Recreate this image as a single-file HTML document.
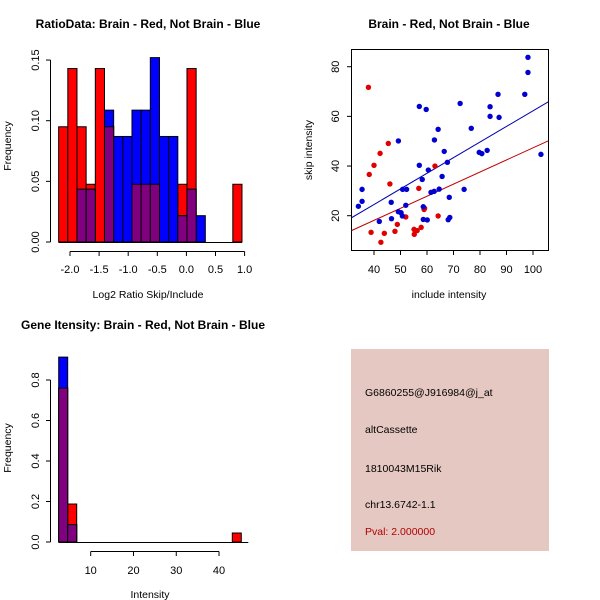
<!DOCTYPE html>
<html><head><meta charset="utf-8"><style>
html,body{margin:0;padding:0;background:#fff;}
svg{display:block;font-family:"Liberation Sans",sans-serif;}
</style></head><body>
<svg id="c" width="600" height="600" viewBox="0 0 600 600">
<rect width="600" height="600" fill="#fff"/>
<g id="p1"></g>
<g id="p2"></g>
<g id="p3"></g>
<g id="p4">
<rect x="351" y="349" width="198" height="202" fill="#E6C8C2"/>
<text x="365" y="396" font-size="10.5" fill="#000">G6860255@J916984@j_at</text>
<text x="365" y="433" font-size="10.5" fill="#000">altCassette</text>
<text x="365" y="472" font-size="10.5" fill="#000">1810043M15Rik</text>
<text x="365" y="508" font-size="10.5" fill="#000">chr13.6742-1.1</text>
<text x="365" y="535" font-size="10.5" fill="#B00000">Pval: 2.000000</text>
</g>
</svg>
<script>
// Panel 1 data
const ratioBinStart = -2.195;
const ratioBinWidth = 0.1575;
const ratioRed  = [0.095,0.143,0.095,0.0476,0.143,0.095,0,0,0.0476,0.0476,0.0476,0,0,0.0476,0.143,0,0,0,0,0.0476];
const ratioBlue = [0,0,0.0435,0.0435,0,0.1087,0.087,0.087,0.1087,0.1087,0.152,0.087,0.087,0.0217,0.0435,0.0217,0,0,0,0];
const ratioXTicks = [-2.0,-1.5,-1.0,-0.5,0.0,0.5,1.0];
const ratioXTickLabels = ["-2.0","-1.5","-1.0","-0.5","0.0","0.5","1.0"];
const ratioYTicks = [0,0.05,0.10,0.15];
const ratioYTickLabels = ["0.00","0.05","0.10","0.15"];
// Panel 2 data
const redX = [37.9,38.2,40,42.3,45.4,46,38.9,42.6,43.9,47.9,48.8,52,55.1,55.2,56.3,57.8,56.9,59.1,58.9,63,64.2];
const redY = [71.7,36.6,40.3,45.1,49.1,32.8,13.3,9.3,12.9,13.7,16.5,19.5,14.5,12.5,14,15.3,31,23,22.5,40,19.9];
const blueX = [34.1,35.5,35.5,42,46.5,46.6,49.2,49.2,50.2,50.7,50.8,52,52.3,57.1,57.1,58.2,58.6,58.6,59.7,60.1,60.5,61.5,62.7,62.8,64.2,64.6,65.7,66.5,67.7,68,68.4,68.6,72.5,74,76.7,79.7,80.7,82.7,83.8,83.8,86.8,87.2,96.9,98.1,98.1,103];
const blueY = [23.8,30.6,25.8,17.7,25.4,18.8,50.1,21.6,21.2,19.9,30.6,24.2,30.6,64,40.3,34.6,23.6,18.5,62.8,18.3,38.4,29.4,29.8,50.5,54.8,30.7,35.8,45.9,41.5,18.4,27.4,19.3,65.2,30.6,55.2,45.5,45,46.3,63.9,60,68.9,59.6,68.9,83.8,77.7,44.7];
const blueFit = [-0.65,0.629];
const redFit = [-1.33,0.4865];
const scatXTicks = [40,50,60,70,80,90,100];
const scatYTicks = [20,40,60,80];
// Panel 3 data
const intBinStarts = [2.52,4.63,43.1];
const intBinWidth = 2.1;
const intRed = [0.76,0.1875,0.0444];
const intBlue = [0.913,0.0856,0];
const intXTicks = [10,20,30,40];
const intYTicks = [0,0.2,0.4,0.6,0.8];
const intYTickLabels = ["0.0","0.2","0.4","0.6","0.8"];

const NS="http://www.w3.org/2000/svg";
function mk(parent,tag,attrs){const e=document.createElementNS(NS,tag);for(const k in attrs)e.setAttribute(k,attrs[k]);parent.appendChild(e);return e;}
function txt(parent,x,y,s,size,extra){const t=mk(parent,'text',Object.assign({x:x,y:y,'font-size':size,'text-anchor':'middle'},extra||{}));t.textContent=s;return t;}

// ---------- Panel 1 ----------
(function(){
const g=document.getElementById('p1');
const sx=v=>70+(v+2)*58.2, sy=v=>242-v*1213;
function bars(vals,color,name){vals.forEach((v,i)=>{if(v<=0)return;const x0=sx(ratioBinStart+i*ratioBinWidth),x1=sx(ratioBinStart+(i+1)*ratioBinWidth);
const r=mk(g,'rect',{x:x0,y:sy(v),width:x1-x0,height:sy(0)-sy(v),fill:color,stroke:'#000','stroke-width':1});

});}
bars(ratioRed,'#FF0000','red-bar');
bars(ratioBlue,'#0000FF','blue-bar');
bars(ratioRed.map((v,i)=>Math.min(v,ratioBlue[i])),'#800080','overlap-bar');
mk(g,'line',{x1:sx(ratioBinStart),x2:sx(ratioBinStart+ratioRed.length*ratioBinWidth),y1:sy(0)+0.5,y2:sy(0)+0.5,stroke:'#000'});
const ax=mk(g,'g',{});
mk(ax,'line',{x1:sx(ratioXTicks[0]),x2:sx(ratioXTicks[ratioXTicks.length-1]),y1:251.5,y2:251.5,stroke:'#000'});
ratioXTicks.forEach((v,i)=>{mk(ax,'line',{x1:sx(v),x2:sx(v),y1:251.5,y2:256,stroke:'#000'});txt(ax,sx(v),273,ratioXTickLabels[i],11);});
const ay=mk(g,'g',{});
mk(ay,'line',{x1:50.5,x2:50.5,y1:sy(0.15),y2:sy(0),stroke:'#000'});
ratioYTicks.forEach((v,i)=>{mk(ay,'line',{x1:46,x2:50.5,y1:sy(v),y2:sy(v),stroke:'#000'});txt(ay,39,sy(v),ratioYTickLabels[i],11,{transform:`rotate(-90 39 ${sy(v)})`});});
let t=txt(g,148,28,'RatioData: Brain - Red, Not Brain - Blue',12,{'font-weight':'bold'});
t=txt(g,148,298,'Log2 Ratio Skip/Include',10.5);
t=txt(g,11,146,'Frequency',10.5,{transform:'rotate(-90 11 146)'});
})();

// ---------- Panel 2 ----------
(function(){
const g=document.getElementById('p2');
const sx=v=>374+(v-40)*2.65, sy=v=>215.7-(v-20)*2.483;
mk(g,'rect',{x:351.5,y:49.5,width:197,height:201,fill:'none',stroke:'#000'});
const cp=mk(g,'clipPath',{id:'clip2'});mk(cp,'rect',{x:351.5,y:49.5,width:197,height:201});
function fitLine(fit,color,name){const xa=31.5,xb=105.7;const l=mk(g,'line',{x1:sx(xa),y1:sy(fit[0]+fit[1]*xa),x2:sx(xb),y2:sy(fit[0]+fit[1]*xb),stroke:color,'stroke-width':1,'clip-path':'url(#clip2)'});

}
fitLine(blueFit,'#0000B0','blue-regression-line');
fitLine(redFit,'#C00000','red-regression-line');
redX.forEach((x,i)=>{const c=mk(g,'circle',{cx:sx(x),cy:sy(redY[i]),r:2.7,fill:'#E00000'});

});
blueX.forEach((x,i)=>{const c=mk(g,'circle',{cx:sx(x),cy:sy(blueY[i]),r:2.7,fill:'#0000D0'});

});
const ax=mk(g,'g',{});
scatXTicks.forEach(v=>{mk(ax,'line',{x1:sx(v),x2:sx(v),y1:250.5,y2:255,stroke:'#000'});txt(ax,sx(v),273,String(v),11);});
const ay=mk(g,'g',{});
scatYTicks.forEach(v=>{mk(ay,'line',{x1:347,x2:351.5,y1:sy(v),y2:sy(v),stroke:'#000'});txt(ay,339,sy(v),String(v),11,{transform:`rotate(-90 339 ${sy(v)})`});});
let t=txt(g,449,28,'Brain - Red, Not Brain - Blue',12,{'font-weight':'bold'});
t=txt(g,449,298,'include intensity',10.5);
t=txt(g,312,150,'skip intensity',10.5,{transform:'rotate(-90 312 150)'});
})();

// ---------- Panel 3 ----------
(function(){
const g=document.getElementById('p3');
const sx=v=>90.7+(v-10)*4.278, sy=v=>542-v*202.5;
function bars(vals,color,name){vals.forEach((v,i)=>{if(v<=0)return;const x0=sx(intBinStarts[i]),x1=sx(intBinStarts[i]+intBinWidth);
const r=mk(g,'rect',{x:x0,y:sy(v),width:x1-x0,height:sy(0)-sy(v),fill:color,stroke:'#000','stroke-width':1});

});}
bars(intRed,'#FF0000','red-bar');
bars(intBlue,'#0000FF','blue-bar');
bars(intRed.map((v,i)=>Math.min(v,intBlue[i])),'#800080','overlap-bar');
mk(g,'line',{x1:sx(intBinStarts[0]),x2:sx(intBinStarts[2]+intBinWidth)+7,y1:sy(0)+0.5,y2:sy(0)+0.5,stroke:'#000'});
const ax=mk(g,'g',{});
mk(ax,'line',{x1:sx(10),x2:sx(40),y1:551.5,y2:551.5,stroke:'#000'});
intXTicks.forEach(v=>{mk(ax,'line',{x1:sx(v),x2:sx(v),y1:551.5,y2:556,stroke:'#000'});txt(ax,sx(v),574,String(v),11);});
const ay=mk(g,'g',{});
mk(ay,'line',{x1:50.5,x2:50.5,y1:sy(0.8),y2:sy(0),stroke:'#000'});
intYTicks.forEach((v,i)=>{mk(ay,'line',{x1:46,x2:50.5,y1:sy(v),y2:sy(v),stroke:'#000'});txt(ay,39,sy(v),intYTickLabels[i],11,{transform:`rotate(-90 39 ${sy(v)})`});});
let t=txt(g,143,329,'Gene Itensity: Brain - Red, Not Brain - Blue',12,{'font-weight':'bold'});
t=txt(g,150,598,'Intensity',10.5);
t=txt(g,11,448,'Frequency',10.5,{transform:'rotate(-90 11 448)'});
})();
</script>
</body></html>
